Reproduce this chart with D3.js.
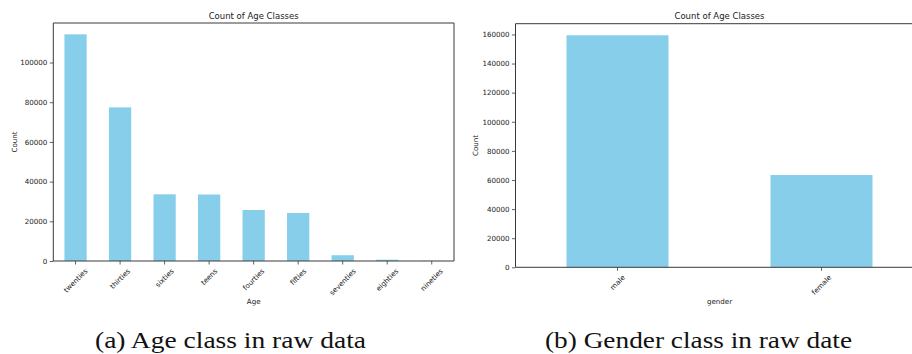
<!DOCTYPE html>
<html><head><meta charset="utf-8">
<script src="https://cdn.jsdelivr.net/npm/d3@7"></script>
<style>
html,body{margin:0;padding:0;background:#fff;}
svg{display:block;}
text{font-family:"DejaVu Sans",sans-serif;fill:#222;}
text.cap{font-family:"Liberation Serif","Times New Roman",Times,serif;}
</style></head>
<body>
<svg id="c" width="912" height="354"></svg>
<script>
const ageCategories = ["twenties","thirties","sixties","teens","fourties","fifties","seventies","eighties","nineties"];
const ageCounts = [114200, 77400, 33600, 33500, 25700, 24200, 2900, 650, 80];
const ageTicks = [0, 20000, 40000, 60000, 80000, 100000];

const genderCategories = ["male","female"];
const genderCounts = [159400, 63400];
const genderTicks = [0, 20000, 40000, 60000, 80000, 100000, 120000, 140000, 160000];

const titles = ["Count of Age Classes", "Count of Age Classes"];
const xLabels = ["Age", "gender"];
const captions = ["(a) Age class in raw data", "(b) Gender class in raw date"];

const svg = d3.select("#c");
const barColor = "#87CEEB";
const spine = "#3a3a3a";
const tickFont = 7.1;

function panel(cfg) {
  const {cats, vals, ticks, left, right, top, bottom, title, xlab, caption, capX, capW, ylabX, showRight} = cfg;
  const g = svg.append("g");
  const x = d3.scaleBand().domain(cats).range([left, right]).paddingInner(0.5).paddingOuter(0.25);
  const y = d3.scaleLinear().domain([0, d3.max(vals) * 1.05]).range([bottom, top]);

  g.selectAll("rect.bar").data(cats).enter().append("rect")
    .attr("x", d => x(d)).attr("width", x.bandwidth())
    .attr("y", (d, i) => y(vals[i])).attr("height", (d, i) => y(0) - y(vals[i]))
    .attr("fill", barColor);

  const ya = g.append("g").attr("transform", `translate(${left},0)`)
    .call(d3.axisLeft(y).tickValues(ticks).tickFormat(d3.format("d")).tickSize(3.5).tickPadding(2.5));
  ya.select(".domain").remove();
  ya.selectAll("line").attr("stroke", spine).attr("stroke-width", 0.8);
  ya.selectAll("text").attr("font-size", tickFont).attr("fill", "#222").attr("font-family", "DejaVu Sans");

  const xa = g.append("g").attr("transform", `translate(0,${bottom})`)
    .call(d3.axisBottom(x).tickSize(3.5).tickFormat(""));
  xa.select(".domain").remove();
  xa.selectAll("line").attr("stroke", spine).attr("stroke-width", 0.8);
  cats.forEach(c => {
    const cx = x(c) + x.bandwidth() / 2;
    const t = g.append("text").text(c).attr("font-size", tickFont)
      .attr("text-anchor", "middle").attr("dominant-baseline", "central");
    const w = t.node().getComputedTextLength();
    const h = tickFont * 0.95;
    const half = (w * Math.SQRT1_2 + h * Math.SQRT1_2) / 2;
    const cy = bottom + 6.5 + half;
    t.attr("transform", `translate(${cx},${cy}) rotate(-45)`);
  });

  const sp = g.append("g").attr("stroke", spine).attr("stroke-width", 1).attr("fill", "none");
  sp.append("line").attr("x1", left).attr("x2", left).attr("y1", top).attr("y2", bottom);
  sp.append("line").attr("x1", left).attr("x2", right).attr("y1", bottom).attr("y2", bottom);
  sp.append("line").attr("x1", left).attr("x2", right).attr("y1", top).attr("y2", top);
  if (showRight) sp.append("line").attr("x1", right).attr("x2", right).attr("y1", top).attr("y2", bottom);

  g.append("text").text(title).attr("x", (left + right) / 2).attr("y", 15.5)
    .attr("text-anchor", "middle").attr("dominant-baseline", "central").attr("font-size", 8.5);
  g.append("text").text(xlab).attr("x", (left + right) / 2).attr("y", 301.5)
    .attr("text-anchor", "middle").attr("dominant-baseline", "central").attr("font-size", tickFont);
  g.append("text").text("Count").attr("transform", `translate(${ylabX},${(top + bottom) / 2}) rotate(-90)`)
    .attr("text-anchor", "middle").attr("dominant-baseline", "central").attr("font-size", tickFont);

  svg.append("text").attr("class", "cap").text(caption).attr("x", capX).attr("y", 347.5)
    .attr("font-size", 23).style("fill", "#111")
    .attr("textLength", capW).attr("lengthAdjust", "spacingAndGlyphs");
}

panel({cats: ageCategories, vals: ageCounts, ticks: ageTicks, left: 53.3, right: 454, top: 23, bottom: 261,
  title: titles[0], xlab: xLabels[0], caption: captions[0], capX: 95, capW: 271, ylabX: 14, showRight: true});
panel({cats: genderCategories, vals: genderCounts, ticks: genderTicks, left: 515.5, right: 923.5, top: 23.7, bottom: 267.3,
  title: titles[1], xlab: xLabels[1], caption: captions[1], capX: 545, capW: 307, ylabX: 475.7, showRight: true});
</script>
</body></html>
